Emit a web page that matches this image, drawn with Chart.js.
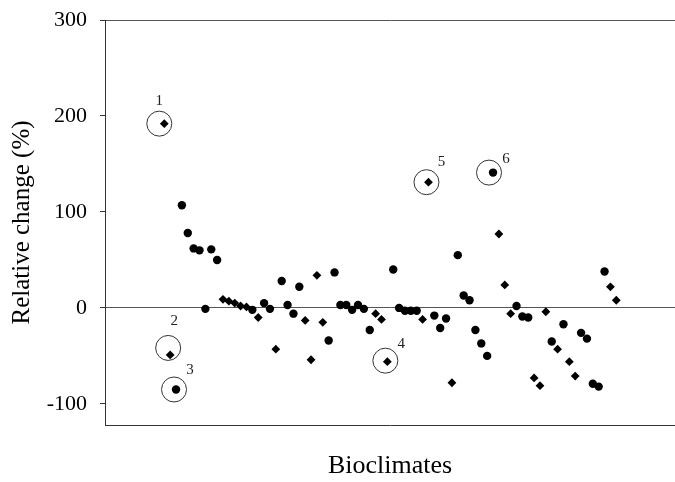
<!DOCTYPE html>
<html>
<head>
<meta charset="utf-8">
<script src="https://cdn.jsdelivr.net/npm/chart.js@4/dist/chart.umd.min.js"></script>
<style>
    html, body { margin: 0; padding: 0; background: #fff; overflow: hidden; }
    canvas { display: block; }
</style>
</head>
<body>
<canvas id="canvas" width="675" height="482"></canvas>
<script>
// bioclimate numbers along the x axis (no tick labels shown)
const bioclimates = Array.from({ length: 78 }, (_, i) => i + 1);

// relative change (%), one value per bioclimate, split by marker group
const circleSeries = [
    null, null, -85, 107, 78, 62, 60, -1, 61, 50,
    null, null, null, null, null, -2, null, 5, -1, null,
    28, 3, -6, 22, null, null, null, null, -34, 37,
    3, 3, -2, 3, -1, -23, null, null, null, 40,
    0, -3, -3, -3, null, null, -8, -21, -11, null,
    55, 13, 8, -23, -37, -50, 141, null, null, null,
    2, -9, -10, null, null, null, -35, null, -17, null,
    null, -26, -32, -79, -82, 38, null, null,
];
const diamondSeries = [
    192, -49, null, null, null, null, null, null, null, null,
    9, 7, 5, 2, 1, null, -10, null, null, -43,
    null, null, null, null, -13, -54, 34, -15, null, null,
    null, null, null, null, null, null, -6, -12, -56, null,
    null, null, null, null, -12, 131, null, null, null, -78,
    null, null, null, null, null, null, null, 77, 24, -6,
    null, null, null, -73, -81, -4, null, -43, null, -56,
    -71, null, null, null, null, null, 22, 8,
];

const yTicks = [-100, 0, 100, 200, 300];

// circled bioclimates and their numbers
const calloutBioclimates = [1, 2, 3, 39, 46, 57];
const calloutLabels = ['1', '2', '3', '4', '5', '6'];

document.addEventListener('DOMContentLoaded', () => {
    const toPoints = (series) => bioclimates
        .map((b, i) => ({ x: b, y: series[i] }))
        .filter(p => p.y !== null);

    const valueAt = (b) => {
        const i = b - 1;
        return circleSeries[i] !== null ? circleSeries[i] : diamondSeries[i];
    };

    // circle offset from the point, then label offset from the circle centre
    const calloutStyle = [
        { cx: -5, cy: 0, lx: 0, ly: -23 },
        { cx: -2, cy: -7, lx: 6, ly: -27 },
        { cx: -2, cy: 0, lx: 16, ly: -19 },
        { cx: -2, cy: -1, lx: 16, ly: -17 },
        { cx: -2, cy: 0, lx: 15, ly: -20 },
        { cx: -4, cy: 0, lx: 17, ly: -14 },
    ];

    const drawCallouts = (chart) => {
        const { ctx, scales: { x, y } } = chart;
        ctx.save();
        ctx.strokeStyle = '#333';
        ctx.lineWidth = 1;
        ctx.fillStyle = '#222';
        ctx.font = '15px "Liberation Serif"';
        ctx.textAlign = 'center';
        ctx.textBaseline = 'middle';
        calloutBioclimates.forEach((b, k) => {
            const s = calloutStyle[k];
            const px = x.getPixelForValue(b) + s.cx;
            const py = y.getPixelForValue(valueAt(b)) + s.cy;
            ctx.beginPath();
            ctx.arc(px, py, 12.5, 0, Math.PI * 2);
            ctx.stroke();
            ctx.fillText(calloutLabels[k], px + s.lx, py + s.ly);
        });
        ctx.restore();
    };

    new Chart(document.getElementById('canvas'), {
        type: 'scatter',
        data: {
            datasets: [
                {
                    label: 'circles',
                    data: toPoints(circleSeries),
                    pointStyle: 'circle',
                    pointRadius: 4.2,
                    backgroundColor: '#000',
                    borderWidth: 0,
                },
                {
                    label: 'diamonds',
                    data: toPoints(diamondSeries),
                    pointStyle: 'rectRot',
                    pointRadius: 4.4,
                    backgroundColor: '#000',
                    borderWidth: 0,
                },
            ],
        },
        plugins: [
            {
                afterDatasetsDraw: drawCallouts,
            },
        ],
        options: {
            responsive: false,
            animation: false,
            layout: {
                autoPadding: false,
                padding: { top: 20, right: 0, bottom: 0, left: 0 },
            },
            plugins: {
                legend: { display: false },
                tooltip: { enabled: false },
            },
            scales: {
                x: {
                    type: 'linear',
                    min: -9.1,
                    max: 88,
                    grid: { display: false },
                    border: { display: true, color: '#333', width: 1 },
                    ticks: { display: false },
                    title: {
                        display: true,
                        text: 'Bioclimates',
                        color: '#000',
                        font: { family: '"Liberation Serif"', size: 26 },
                        padding: { top: 0, bottom: 0 },
                    },
                    afterFit: (axis) => { axis.height = 57; },
                },
                y: {
                    min: -122,
                    max: 300,
                    afterBuildTicks: (axis) => { axis.ticks = yTicks.map(v => ({ value: v })); },
                    grid: {
                        color: (c) => (c.tick && (c.tick.value === 0 || c.tick.value === 300)) ? '#555' : 'rgba(0,0,0,0)',
                        tickColor: '#333',
                        tickLength: 5,
                        lineWidth: 1,
                    },
                    border: { display: true, color: '#333', width: 1 },
                    ticks: {
                        color: '#000',
                        padding: 13,
                        font: { family: '"Liberation Serif"', size: 22 },
                    },
                    title: {
                        display: true,
                        text: 'Relative change (%)',
                        color: '#000',
                        font: { family: '"Liberation Serif"', size: 25 },
                        padding: { top: 7, bottom: 0 },
                    },
                    afterFit: (axis) => {
                        axis.width = 105;
                        axis.paddingTop = 0;
                        axis.paddingBottom = 0;
                    },
                },
            },
        },
    });
});
</script>
</body>
</html>
